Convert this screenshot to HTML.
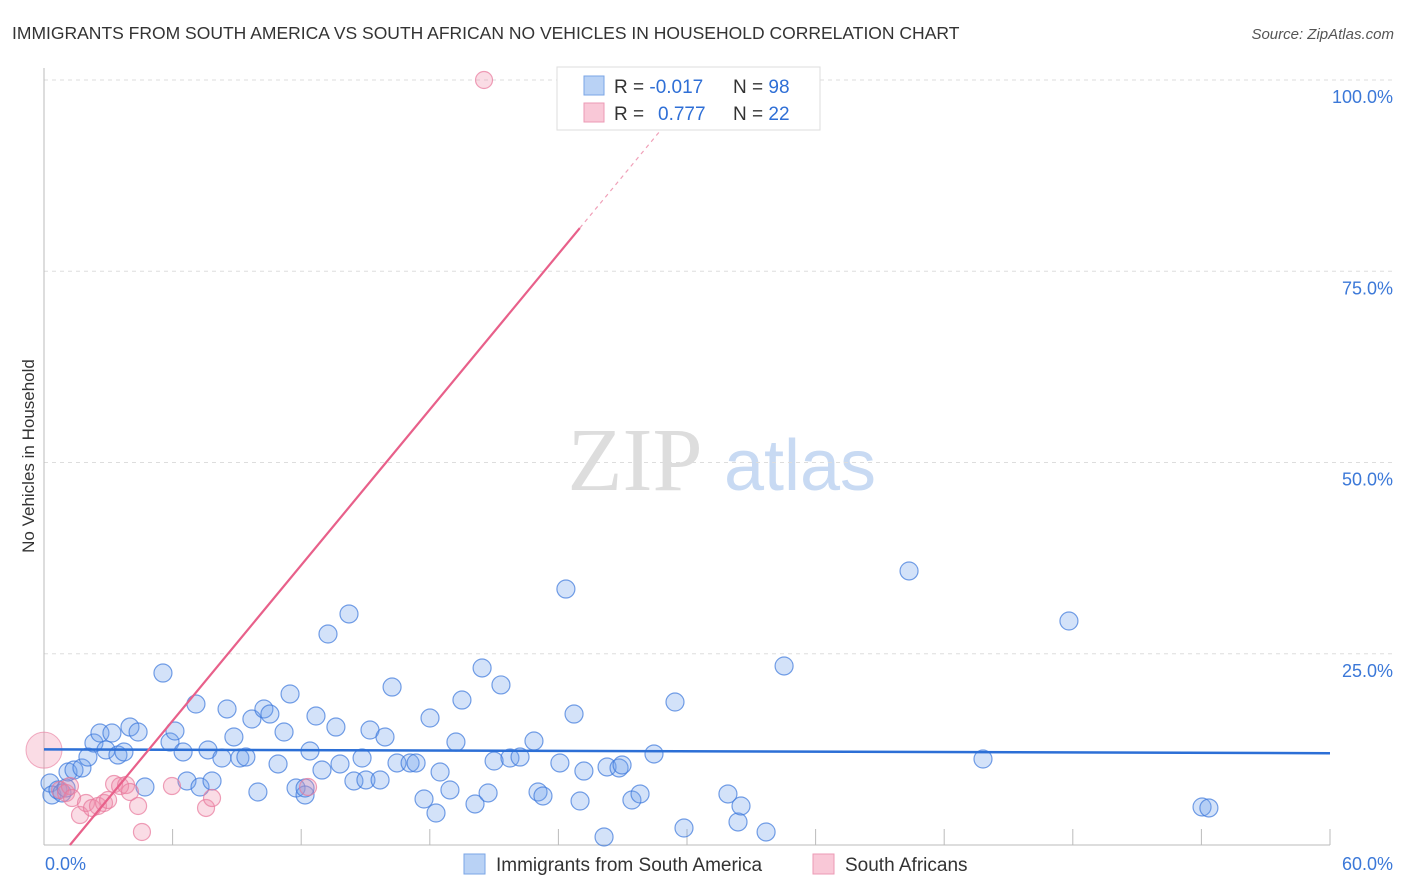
<!DOCTYPE html>
<html><head><meta charset="utf-8">
<style>
body{margin:0;background:#fff;font-family:"Liberation Sans",sans-serif;}
#wrap{position:relative;width:1406px;height:892px;overflow:hidden;}
</style></head>
<body>
<div id="wrap">
<svg id="svg" width="1406" height="892" xmlns="http://www.w3.org/2000/svg">
<text x="12" y="39" font-size="17.5" fill="#333">IMMIGRANTS FROM SOUTH AMERICA VS SOUTH AFRICAN NO VEHICLES IN HOUSEHOLD CORRELATION CHART</text>
<text x="1394" y="39" font-size="15" fill="#555" font-style="italic" text-anchor="end">Source: ZipAtlas.com</text>
<text x="34" y="456" font-size="17" fill="#333" text-anchor="middle" transform="rotate(-90 34 456)">No Vehicles in Household</text>
<text x="635" y="490" font-size="90" fill="#ddd" font-family="Liberation Serif" text-anchor="middle">ZIP</text>
<text x="800" y="490" font-size="72" fill="#c8daf3" text-anchor="middle">atlas</text>
<g id="grid"></g><g id="ticks"></g><g id="pts"></g><g id="lines"></g>
<g>
<rect x="557" y="67" width="263" height="63" fill="#fff" stroke="#ddd"/>
<rect x="584" y="76" width="20" height="19" fill="#b9d2f5" stroke="#7aa5e6"/>
<rect x="584" y="103" width="20" height="19" fill="#f9c8d7" stroke="#ec9ab4"/>
<text x="614" y="93" font-size="19" fill="#333">R = <tspan fill="#2f6fd6">-0.017</tspan></text>
<text x="733" y="93" font-size="19" fill="#333">N = <tspan fill="#2f6fd6">98</tspan></text>
<text x="614" y="120" font-size="19" fill="#333">R = <tspan fill="#2f6fd6" x="658">0.777</tspan></text>
<text x="733" y="120" font-size="19" fill="#333">N = <tspan fill="#2f6fd6">22</tspan></text>
</g>
<g>
<rect x="464" y="854" width="21" height="20" fill="#b9d2f5" stroke="#7aa5e6"/>
<text x="496" y="871" font-size="19" fill="#333">Immigrants from South America</text>
<rect x="813" y="854" width="21" height="20" fill="#f9c8d7" stroke="#ec9ab4"/>
<text x="845" y="871" font-size="19" fill="#333">South Africans</text>
</g>
</svg>
</div>
<script>
const yTicks=[25,50,75,100];
const yTickLabels=["25.0%","50.0%","75.0%","100.0%"];
const xTickLabels=["0.0%","60.0%"];
const bluePx=[[50,783],[52,795],[58,790],[62,793],[66,788],[68,772],[74,770],[82,768],[88,757],[94,743],[100,733],[106,750],[112,733],[118,755],[124,752],[130,727],[138,732],[145,787],[163,673],[170,742],[175,731],[183,752],[187,781],[196,704],[200,787],[208,750],[212,781],[222,758],[227,709],[234,737],[240,758],[246,757],[252,719],[258,792],[264,709],[270,714],[278,764],[284,732],[290,694],[296,788],[305,795],[305,788],[310,751],[316,716],[322,770],[328,634],[336,727],[340,764],[349,614],[354,781],[362,758],[366,780],[370,730],[380,780],[385,737],[392,687],[397,763],[410,763],[416,763],[424,799],[430,718],[436,813],[440,772],[450,790],[456,742],[462,700],[475,804],[482,668],[488,793],[494,761],[501,685],[510,758],[520,757],[534,741],[538,792],[543,796],[560,763],[566,589],[574,714],[580,801],[584,771],[604,837],[607,767],[619,768],[622,765],[632,800],[640,794],[654,754],[675,702],[684,828],[728,794],[738,822],[741,806],[766,832],[784,666],[909,571],[983,759],[1069,621],[1202,807],[1209,808]];
const pinkPx=[[60,790],[66,793],[70,786],[72,798],[80,815],[86,803],[92,808],[98,806],[104,803],[108,800],[114,784],[120,786],[126,785],[130,792],[138,806],[142,832],[172,786],[206,808],[212,798],[308,787],[484,80]];
// convert visual estimates into data values (% units)
const blueX=bluePx.map(p=>+((p[0]-44)/1286*60).toFixed(2));
const blueY=bluePx.map(p=>+((845-p[1])/765*100).toFixed(2));
const pinkX=pinkPx.map(p=>+((p[0]-44)/1286*60).toFixed(2));
const pinkY=pinkPx.map(p=>+((845-p[1])/765*100).toFixed(2));
const blueTrend=[12.5,12.0];
const pinkTrend=[-4.1,3.39];
const X0=44,X1=1330,Y0=845,Y100=80;
const sx=v=>X0+(v/60)*(X1-X0);
const sy=v=>Y0-(v/100)*(Y0-Y100);
const NS="http://www.w3.org/2000/svg";
function mk(tag,attrs,parent){const e=document.createElementNS(NS,tag);for(const k in attrs)e.setAttribute(k,attrs[k]);document.getElementById(parent).appendChild(e);return e;}
// grid
yTicks.forEach((t,i)=>{
 const l=mk('line',{x1:44,x2:1393,y1:sy(t),y2:sy(t),stroke:'#ddd','stroke-dasharray':'4,4'},'grid');
 
 
 const tx=mk('text',{x:1393,y:sy(t)+23,'font-size':18,fill:'#3b78d8','text-anchor':'end'},'grid');
 tx.textContent=yTickLabels[i];
 
 
});
const ax=mk('line',{x1:44,x2:44,y1:68,y2:845,stroke:'#bbb'},'ticks');


const bx=mk('line',{x1:44,x2:1330,y1:845,y2:845,stroke:'#bbb'},'ticks');


for(let i=1;i<=10;i++){
 const t=mk('line',{x1:sx(i*6),x2:sx(i*6),y1:829,y2:845,stroke:'#bbb'},'ticks');
 
 
}
const xl0=mk('text',{x:45,y:870,'font-size':18,fill:'#3b78d8'},'ticks');xl0.textContent=xTickLabels[0];


const xl1=mk('text',{x:1393,y:870,'font-size':18,fill:'#3b78d8','text-anchor':'end'},'ticks');xl1.textContent=xTickLabels[1];


// points
const big=mk('circle',{cx:sx(0),cy:sy(12.4),r:18,fill:'rgba(240,140,170,0.3)',stroke:'rgba(232,120,155,0.6)'},'pts');


blueX.forEach((x,i)=>{
 const c=mk('circle',{cx:sx(x),cy:sy(blueY[i]),r:9,fill:'rgba(110,160,235,0.3)',stroke:'rgba(60,120,220,0.7)','stroke-width':1.2},'pts');
 
 
});
pinkX.forEach((x,i)=>{
 const c=mk('circle',{cx:sx(x),cy:sy(pinkY[i]),r:8.5,fill:'rgba(240,140,170,0.3)',stroke:'rgba(232,120,155,0.7)','stroke-width':1.2},'pts');
 
 
});
// trend lines
const bl=mk('line',{x1:sx(0),y1:sy(blueTrend[0]),x2:sx(60),y2:sy(blueTrend[1]),stroke:'#2c6fd6','stroke-width':2.5},'lines');


const pf=x=>pinkTrend[0]+pinkTrend[1]*x;
const xs=-pinkTrend[0]/pinkTrend[1];
const pl=mk('line',{x1:sx(xs),y1:sy(pf(xs)),x2:sx(25),y2:sy(pf(25)),stroke:'#e8608a','stroke-width':2.2},'lines');


const pd=mk('line',{x1:sx(25),y1:sy(pf(25)),x2:sx(28.7),y2:sy(pf(28.7)),stroke:'#f0a0b8','stroke-width':1.2,'stroke-dasharray':'4,4'},'lines');


</script>
</body></html>
